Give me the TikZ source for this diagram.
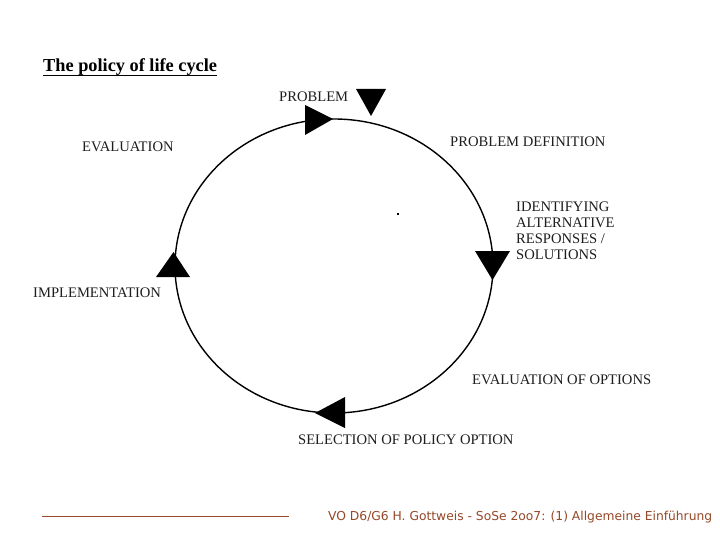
\documentclass[tikz,border=0pt]{standalone}
\usepackage{fontspec}
\setmainfont{Liberation Serif}
\newfontfamily\footfont{DejaVu Sans}
\definecolor{footbrown}{RGB}{150,72,40}
\definecolor{labelgray}{RGB}{30,30,30}
\begin{document}
\begin{tikzpicture}[x=1pt,y=-1pt,
  lbl/.style={inner sep=0pt,anchor=west,text=labelgray,font=\fontsize{14.6}{16}\selectfont},
  tri/.style={fill=black,draw=none},
  ring/.style={draw=black,line width=1.4pt}]
\useasboundingbox[fill=white] (0,0) rectangle (720,540);
% title
\node[inner sep=0pt,anchor=base west,font=\bfseries\fontsize{18.3}{20}\selectfont] (title) at (43,72) {The policy of life cycle};
\draw[line width=1.8pt] (title.base west) ++(0,3.5) coordinate (ul1) -- (title.base east |- ul1);
% cycle
\draw[ring] (334,266) ellipse [x radius=159, y radius=147];
% triangles
\fill[tri] (305,105) -- (333,119) -- (305,135) -- cycle;
\fill[tri] (356,89) -- (386,89) -- (371,116) -- cycle;
\fill[tri] (475,251) -- (510,251) -- (492.5,280) -- cycle;
\fill[tri] (156,277) -- (190,277) -- (173.5,252) -- cycle;
\fill[tri] (315,413) -- (345,397) -- (345,428) -- cycle;
\fill (397,213) rectangle (399,215);
% labels
\node[lbl] (problem) at (279,97) {PROBLEM};
\node[lbl] (evaluation) at (82,147) {EVALUATION};
\node[lbl] (probdef) at (450,142) {PROBLEM DEFINITION};
\node[lbl,anchor=north west,align=left] (ident) at (516,202) {IDENTIFYING\\ALTERNATIVE\\RESPONSES /\\SOLUTIONS};
\node[lbl] (impl) at (33,293) {IMPLEMENTATION};
\node[lbl] (evalopt) at (472,380) {EVALUATION OF OPTIONS};
\node[lbl] (select) at (298,440) {SELECTION OF POLICY OPTION};
% footer
\draw[footbrown,line width=1pt] (42,516) coordinate (f1) -- (289,516) coordinate (f2);
\node[inner sep=0pt,anchor=base west,text=footbrown,font=\footfont\fontsize{12.3}{14}\selectfont] (footer) at (328,520) {VO D6/G6 H. Gottweis - SoSe 2oo7: (1) Allgemeine Einführung};
\end{tikzpicture}
\end{document}
